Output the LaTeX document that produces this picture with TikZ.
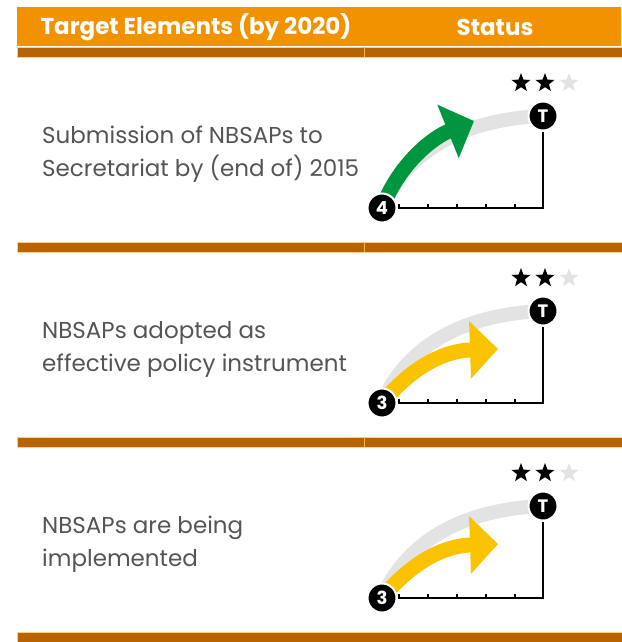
\documentclass[tikz,border=0pt]{standalone}
\usepackage{fontspec}
\setmainfont{Poppins}
\usepackage{tikz}
\usetikzlibrary{arrows.meta, shapes.geometric}
\pgfdeclarelayer{bg}
\pgfsetlayers{bg,main}
\definecolor{hdrorange}{HTML}{F39200}
\definecolor{hdrbrown}{HTML}{B96300}
\definecolor{trackgrey}{HTML}{E3E3E3}
\definecolor{bodygrey}{HTML}{555557}
\definecolor{goodgreen}{HTML}{009640}
\definecolor{midyellow}{HTML}{FBC200}

\begin{document}
\begin{tikzpicture}[x=1pt, y=-1pt,
    numdot/.style={circle, fill=black, draw=white, line width=2pt, minimum size=29pt, inner sep=0pt,
      text=white, font=\fontsize{18}{18}\selectfont\bfseries},
    starmark/.style={star, star points=5, star point ratio=2.4, fill=black, minimum size=20pt, inner sep=0pt},
    track/.style={draw=trackgrey, line width=14pt},
    progress/.style={line width=15pt, -{Triangle[width=56pt,length=28pt]}},
    axisline/.style={draw=black, line width=1.8pt},
    rowtext/.style={anchor=base west, inner sep=0pt, text=bodygrey, font=\fontsize{23}{23}\selectfont},
    headtext/.style={inner sep=0pt, text=white, font=\fontsize{23}{23}\selectfont\bfseries},
    band/.style={fill=hdrbrown, draw=hdrorange!45, line width=0.6pt}]
  \useasboundingbox (0,0) rectangle (621,642);

  % header
  \fill[hdrorange] (17,7) rectangle (621,46);
  \draw[band] (17,47) rectangle (622,57);
  \draw[hdrorange!70, line width=0.6pt] (364,47) -- (364,57);
  \node[headtext] (hleft) at (196,27) {Target Elements (by 2020)};
  \node[headtext] (hright) at (495,27) {Status};

  % row 1
  \node[rowtext] (r1a) at (42,143) {Submission of NBSAPs to};
  \node[rowtext] (r1b) at (42,176) {Secretariat by (end of) 2015};
  \node[numdot] (s1) at (382,208) {4};
  \node[numdot] (t1) at (543,116) {T};
  \coordinate (c1) at (543,208);
  \coordinate (g1) at (474,121);
  \node[starmark] (st1a) at (521,83) {};
  \node[starmark] (st1b) at (545,83) {};
  \node[starmark, fill=trackgrey] (st1c) at (569,83) {};
  \begin{pgfonlayer}{bg}
    \draw[track] (s1.center) .. controls +(27,-62) and +(-73,3) .. (t1.center);
    \draw[progress, goodgreen] (s1.center) .. controls +(18,-46) and +(-40,16) .. (g1);
  \end{pgfonlayer}
  \draw[axisline] (s1.east) -- (c1) -- (t1.south);
  \draw[axisline] (399,208) -- +(0,-4) (428,208) -- +(0,-4) (457,208) -- +(0,-4)
    (486,208) -- +(0,-4) (515,208) -- +(0,-4);

  \draw[band] (17,242) rectangle (622,252);
  \draw[hdrorange!70, line width=0.6pt] (364,242) -- (364,252);

  % row 2
  \begin{scope}[shift={(0,195)}]
    \node[rowtext] (r2a) at (42,143) {NBSAPs adopted as};
    \node[rowtext] (r2b) at (42,176) {effective policy instrument};
    \node[numdot] (s2) at (382,208) {3};
    \node[numdot] (t2) at (543,116) {T};
    \coordinate (c2) at (543,208);
    \coordinate (y2) at (498,154);
    \node[starmark] (st2a) at (521,83) {};
    \node[starmark] (st2b) at (545,83) {};
    \node[starmark, fill=trackgrey] (st2c) at (569,83) {};
    \begin{pgfonlayer}{bg}
      \draw[track] (s2.center) .. controls +(27,-62) and +(-73,3) .. (t2.center);
      \draw[progress, midyellow] (s2.center) .. controls +(25,-30) and +(-60,2) .. (y2);
    \end{pgfonlayer}
    \draw[axisline] (s2.east) -- (c2) -- (t2.south);
    \draw[axisline] (399,208) -- +(0,-4) (428,208) -- +(0,-4) (457,208) -- +(0,-4)
      (486,208) -- +(0,-4) (515,208) -- +(0,-4);

    \draw[band] (17,242) rectangle (622,252);
    \draw[hdrorange!70, line width=0.6pt] (364,242) -- (364,252);
  \end{scope}

  % row 3
  \begin{scope}[shift={(0,390)}]
    \node[rowtext] (r3a) at (42,143) {NBSAPs are being};
    \node[rowtext] (r3b) at (42,176) {implemented};
    \node[numdot] (s3) at (382,208) {3};
    \node[numdot] (t3) at (543,116) {T};
    \coordinate (c3) at (543,208);
    \coordinate (y3) at (498,154);
    \node[starmark] (st3a) at (521,83) {};
    \node[starmark] (st3b) at (545,83) {};
    \node[starmark, fill=trackgrey] (st3c) at (569,83) {};
    \begin{pgfonlayer}{bg}
      \draw[track] (s3.center) .. controls +(27,-62) and +(-73,3) .. (t3.center);
      \draw[progress, midyellow] (s3.center) .. controls +(25,-30) and +(-60,2) .. (y3);
    \end{pgfonlayer}
    \draw[axisline] (s3.east) -- (c3) -- (t3.south);
    \draw[axisline] (399,208) -- +(0,-4) (428,208) -- +(0,-4) (457,208) -- +(0,-4)
      (486,208) -- +(0,-4) (515,208) -- +(0,-4);

    \draw[band] (17,242) rectangle (622,252);
  \end{scope}
\end{tikzpicture}
\end{document}
